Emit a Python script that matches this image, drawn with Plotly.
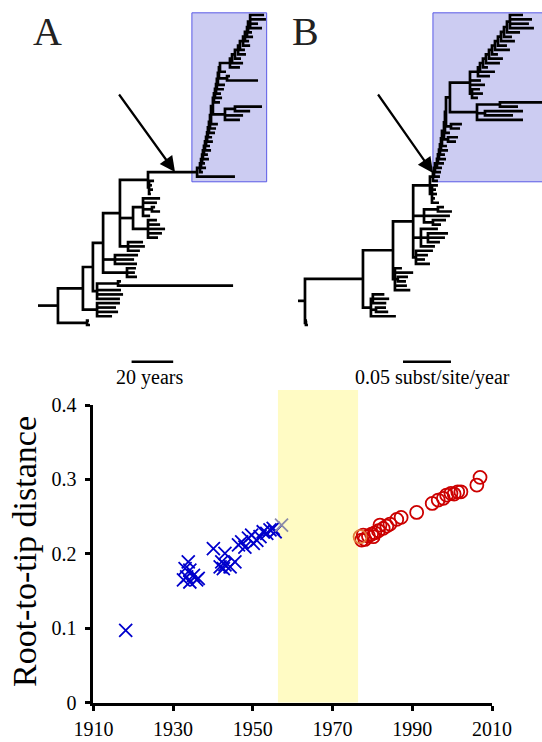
import plotly.graph_objects as go

# ---------------------------------------------------------------- scatter data
pre_years = [1918.1,
             1933.8, 1933.0, 1934.2, 1933.4, 1935.1, 1935.9, 1934.2, 1932.6, 1936.3,
             1940.1, 1943.0, 1942.2, 1943.0, 1941.8, 1944.3, 1945.5, 1942.6,
             1946.4, 1947.2, 1948.0, 1948.9, 1949.7, 1950.1, 1951.0, 1951.8, 1952.6,
             1953.5, 1954.3, 1955.1, 1955.6]
pre_dist = [0.097,
            0.189, 0.180, 0.178, 0.169, 0.171, 0.165, 0.162, 0.165, 0.167,
            0.207, 0.2005, 0.189, 0.185, 0.1825, 0.1825, 0.189, 0.180,
            0.212, 0.216, 0.209, 0.221, 0.225, 0.214, 0.218, 0.223, 0.2296,
            0.2274, 0.232, 0.234, 0.2296]
edge_pre_years = [1957.2]
edge_pre_dist = [0.2386]
edge_post_years = [1976.9]
edge_post_dist = [0.2229]
post_years = [1977.3, 1977.7, 1978.1, 1979.0, 1979.8, 1980.2, 1980.6, 1981.5, 1981.9,
              1982.7, 1983.6, 1984.4, 1986.1, 1987.2, 1991.1, 1995.0, 1996.5, 1997.8,
              1998.6, 1999.7, 2000.5, 2001.4, 2002.2, 2006.2, 2007.0]
post_dist = [0.2184, 0.2251, 0.2193, 0.2238, 0.2265, 0.2229, 0.2282, 0.2309, 0.2386,
             0.2341, 0.2372, 0.2399, 0.2462, 0.2489, 0.2556, 0.2677, 0.2722, 0.2745,
             0.2789, 0.2812, 0.2802, 0.2833, 0.2833, 0.2923, 0.3027]
gap_years = [1956.3, 1976.4]
x_ticks = [1910, 1930, 1950, 1970, 1990, 2010]
y_ticks = [0, 0.1, 0.2, 0.3, 0.4]
y_tick_text = ["0", "0.1", "0.2", "0.3", "0.4"]

# ---------------------------------------------------------------- tree A (dated, years)
# backbone entries: (node date, [side clades below the continuing backbone])
A_ROOT_STEM = 1897.4
A_BACKBONE = [
    (1907.0, [(1921.0, [1922.4, 1921.9])]),
    (1919.0, [(1925.8, [1933.0, 1935.9, 1934.9, 1936.8])]),
    (1923.8, [(1925.8, [1936.8, 1938.3, 1937.3, (1935.9, [1991.2, 1937.3])])]),
    (1928.7, [(1940.2, [1945.0, 1944.0, 1944.5]), (1934.4, [1945.0, 1943.6, 1945.5])]),
    (1936.8, [(1940.7, [1946.4, 1948.8, 1947.9]),
              (1943.1, [(1950.3, [1955.1, 1957.0, 1958.5, 1956.1, 1954.6]),
                        (1947.9, [1951.3, (1952.2, [1956.1, 1953.7]), 1954.6, 1956.1])])]),
    (1950.3, [(1950.8, [1951.7, 1952.7, 1952.2, 1953.2])]),
    (1973.9, [1992.1]),
    (1975.3, [1976.7]), (1975.8, [1978.2]), (1976.3, [1977.7]), (1976.7, [1979.6]),
    (1977.2, [1979.1]), (1977.7, [1980.6]), (1978.2, [1980.1]), (1978.7, [1981.5]),
    (1979.1, [1981.1]), (1979.6, [1982.5]), (1980.1, [1983.0]), (1980.6, [1983.9]),
    (1981.5, [(1987.3, [1994.5, 1996.0, (1992.1, [1999.4, 2005.1])])]),
    (1982.0, [1984.9]), (1982.5, [1985.9]), (1983.0, [1985.4]), (1983.4, [1986.8]),
    (1983.9, [1987.3]),
    (1984.4, [(1988.3, [2003.2, 1989.7])]),
    (1984.9, [1987.8]),
    (1989.7, [1994.5]), (1990.7, [1996.0]), (1992.1, [1995.0]), (1993.6, [1997.4]),
    (1994.5, [1996.9]), (1996.0, [1999.4]), (1996.9, [1998.9]), (1997.9, [2000.8]),
    (1998.4, [2000.3]),
]
A_CROWN = (1999.4, [2005.1, 2003.2, 2007.0, 2006.1])
A_BOX_X = [1971.4, 2007.35]
A_SCALE = [1942.4, 1962.4]

# ---------------------------------------------------------------- tree B (subst/site)
B_ROOT_STEM = 0.0
B_BACKBONE = [
    (0.0073, [(0.0083, [0.0104, 0.0094])]),
    (0.0677, [(0.0760, [0.1020, (0.0813, [0.0940, 0.0917]), (0.0780, [0.0920, 0.0950, 0.0900])])]),
    (0.0990, [(0.1010, [0.1170, 0.1135, (0.1040, [0.1125, 0.1146]), 0.1200, 0.1083])]),
    (0.1200, [(0.1229, [0.1375, 0.1323, 0.1354, 0.1406]),
              (0.1281, [0.1427, (0.1354, [0.1479, 0.1531, 0.1563]), 0.1458]),
              (0.1313, [(0.1406, [0.1490, 0.1542]), 0.1583, (0.1458, [0.1604, 0.1521])])]),
    (0.1375, [(0.1396, [0.1469, 0.1427, 0.1448, 0.1438, 0.1458])]),
    (0.1406, [0.1458]), (0.1417, [0.1479]), (0.1427, [0.1490]), (0.1448, [0.1500]),
    (0.1458, [0.1521]), (0.1469, [0.1542]), (0.1479, [0.1531]), (0.1490, [0.1563]),
    (0.1500, [0.1552]),
    (0.1521, [(0.1563, [0.1646, 0.1667])]),
    (0.1531, [0.1583]),
    (0.1542, [(0.1594, [0.1688, 0.1708])]),
    (0.1583, [(0.1865, [0.2344, (0.1948, [0.2240, 0.2344]), (0.2104, [0.2292, 0.2563])])]),
    (0.1792, [(0.1813, [0.1875, 0.1927, 0.1896]), 0.1948, 0.1906]),
    (0.1875, [0.2000]), (0.1896, [0.2052]), (0.1927, [0.1979]), (0.1958, [0.2104]),
    (0.1990, [0.2135]), (0.2021, [0.2083]), (0.2052, [0.2208]), (0.2083, [0.2177]),
    (0.2115, [0.2260]), (0.2146, [0.2229]), (0.2177, [0.2313]),
]
B_CROWN = (0.2208, [0.2458, 0.2406, 0.2438, 0.2344])
B_BOX_X = [0.1406, 0.26]
B_SCALE = [0.1094, 0.1594]

BOX_TIPS = [32.8, 71.5]      # highlighted clade, in tip-order units
SCALE_TIP = -8.4

# ---------------------------------------------------------------- helpers
def build(backbone, crown):
    node = crown
    for x, sides in reversed(backbone):
        node = (x, list(sides) + [node])
    return node


def layout_tree(root, stem_x):
    xs, ys = [], []
    count = [0]

    def walk(node):
        if not isinstance(node, tuple):
            y = count[0]
            count[0] += 1
            return float(node), float(y)
        x, kids = node
        pos = [walk(k) for k in kids]
        (fx, fy), (lx, ly) = pos[0], pos[-1]
        xs.extend([fx, x, x, lx, None])
        ys.extend([fy, fy, ly, ly, None])
        for cx, cy in pos[1:-1]:
            xs.extend([x, cx, None])
            ys.extend([cy, cy, None])
        return x, (fy + ly) / 2.0

    rx, ry = walk(root)
    xs.extend([stem_x, rx, None])
    ys.extend([ry, ry, None])
    return xs, ys, count[0]


ax_, ay_, nA = layout_tree(build(A_BACKBONE, A_CROWN), A_ROOT_STEM)
bx_, by_, nB = layout_tree(build(B_BACKBONE, B_CROWN), B_ROOT_STEM)

W, H = 542, 742
SERIF = "Liberation Serif, Times New Roman, serif"
TIP_PX = 310.0 / (nA - 1)          # vertical pixel spacing of tips
tree_yrange = [(325 - 395) / TIP_PX, 325 / TIP_PX]

fig = go.Figure()

# trees
fig.add_trace(go.Scatter(x=ax_, y=ay_, mode="lines", xaxis="x2", yaxis="y2",
                         line=dict(color="black", width=2.7), hoverinfo="skip"))
fig.add_trace(go.Scatter(x=bx_, y=by_, mode="lines", xaxis="x3", yaxis="y3",
                         line=dict(color="black", width=2.7), hoverinfo="skip"))

# scatter
cross = dict(symbol="x-thin", size=13, line=dict(width=1.8, color="#0000CC"), color="#0000CC")
fig.add_trace(go.Scatter(x=pre_years, y=pre_dist, mode="markers", marker=cross))
fig.add_trace(go.Scatter(x=edge_pre_years, y=edge_pre_dist, mode="markers",
                         marker=dict(symbol="x-thin", size=13,
                                     line=dict(width=1.8, color="#8a8aa8"), color="#8a8aa8")))
fig.add_trace(go.Scatter(x=post_years, y=post_dist, mode="markers",
                         marker=dict(symbol="circle-open", size=13,
                                     line=dict(width=1.8, color="#CC0000"), color="#CC0000")))
fig.add_trace(go.Scatter(x=edge_post_years, y=edge_post_dist, mode="markers",
                         marker=dict(symbol="circle-open", size=13,
                                     line=dict(width=1.8, color="#E07A3A"), color="#E07A3A")))

shapes = [
    dict(type="rect", xref="x", yref="paper", x0=gap_years[0], x1=gap_years[1],
         y0=(H - 702.5) / H, y1=(H - 390) / H, fillcolor="#FFFBC4",
         line=dict(width=0), layer="below"),
    dict(type="rect", xref="x2", yref="y2", x0=A_BOX_X[0], x1=A_BOX_X[1],
         y0=BOX_TIPS[0], y1=BOX_TIPS[1], fillcolor="#CCCCF2",
         line=dict(color="#5a5ae6", width=1), layer="below"),
    dict(type="rect", xref="x3", yref="y3", x0=B_BOX_X[0], x1=B_BOX_X[1],
         y0=BOX_TIPS[0], y1=BOX_TIPS[1], fillcolor="#CCCCF2",
         line=dict(color="#5a5ae6", width=1), layer="below"),
    dict(type="line", xref="x2", yref="y2", x0=A_SCALE[0], x1=A_SCALE[1],
         y0=SCALE_TIP, y1=SCALE_TIP, line=dict(color="black", width=2.5)),
    dict(type="line", xref="x3", yref="y3", x0=B_SCALE[0], x1=B_SCALE[1],
         y0=SCALE_TIP, y1=SCALE_TIP, line=dict(color="black", width=2.5)),
]


def label(text, px, py, size, angle=0, color="black"):
    return dict(text=text, x=px / W, y=(H - py) / H, xref="paper", yref="paper",
                xanchor="center", yanchor="middle", showarrow=False, textangle=angle,
                font=dict(family=SERIF, size=size, color=color))


annotations = [
    label("A", 47.5, 32, 40, color="#222"),
    label("B", 305, 32, 40, color="#222"),
    label("20 years", 149.5, 377, 20),
    label("0.05 subst/site/year", 432, 377, 20),
    label("Root-to-tip distance", 24, 552, 34, angle=-90),
    dict(text="", x=175 / W, y=(H - 172) / H, xref="paper", yref="paper",
         showarrow=True, ax=-57, ay=-79, arrowhead=2, arrowsize=1.4, arrowwidth=2.2,
         arrowcolor="black"),
    dict(text="", x=433 / W, y=(H - 173) / H, xref="paper", yref="paper",
         showarrow=True, ax=-56, ay=-80, arrowhead=2, arrowsize=1.4, arrowwidth=2.2,
         arrowcolor="black"),
]

fig.update_layout(
    width=W, height=H, margin=dict(l=0, r=0, t=0, b=0, pad=0, autoexpand=False),
    paper_bgcolor="white", plot_bgcolor="rgba(0,0,0,0)", showlegend=False,
    shapes=shapes, annotations=annotations,
    xaxis=dict(domain=[93.4 / W, 492 / W], range=[1910, 2010], anchor="y",
               showline=True, linewidth=3, linecolor="black", ticks="outside",
               ticklen=5, tickwidth=3, tickcolor="black", tickvals=x_ticks,
               tickfont=dict(family=SERIF, size=20, color="black"),
               showgrid=False, zeroline=False, ticklabelstandoff=1, automargin=False),
    yaxis=dict(domain=[(H - 702.5) / H, (H - 405) / H], range=[0, 0.4], anchor="x",
               showline=True, linewidth=3, linecolor="black", ticks="outside",
               ticklen=5, tickwidth=3, tickcolor="black", tickvals=y_ticks,
               ticktext=y_tick_text,
               tickfont=dict(family=SERIF, size=20, color="black"),
               showgrid=False, zeroline=False, ticklabelstandoff=5, automargin=False),
    xaxis2=dict(domain=[0, 0.5], range=[1879.13, 2009.43], anchor="y2", visible=False),
    yaxis2=dict(domain=[(H - 395) / H, 1], range=tree_yrange, anchor="x2", visible=False),
    xaxis3=dict(domain=[0.5, 1], range=[-0.0281, 0.2542], anchor="y3", visible=False),
    yaxis3=dict(domain=[(H - 395) / H, 1], range=tree_yrange, anchor="x3", visible=False),
)

fig.write_html("out.html")
